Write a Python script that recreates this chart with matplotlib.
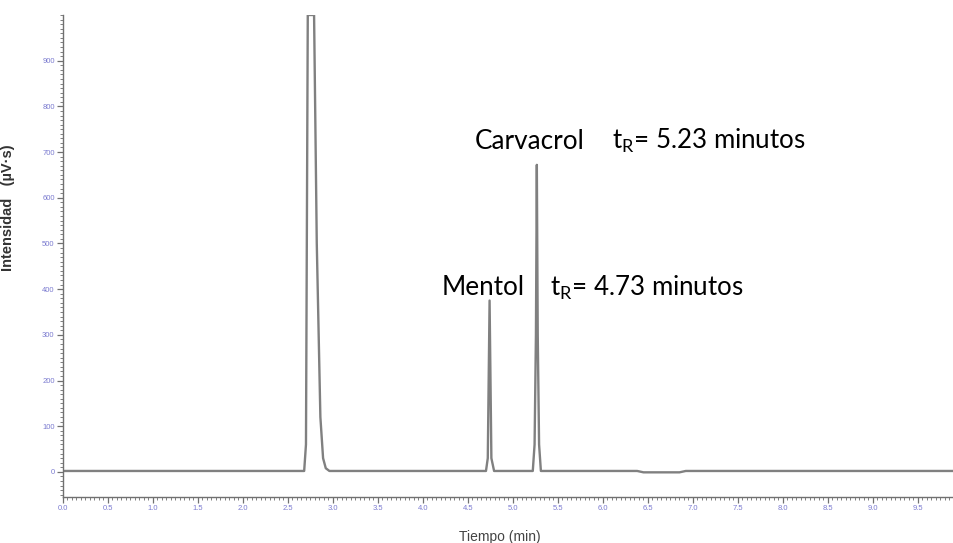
import matplotlib
matplotlib.use("Agg")
import matplotlib.pyplot as plt
from matplotlib.ticker import MultipleLocator

# traza del cromatograma (tiempo en min, intensidad en uV*s)
tiempo = [0.0, 2.68, 2.70, 2.72, 2.79, 2.82, 2.86, 2.89, 2.92, 2.96,
          4.70, 4.72, 4.74, 4.76, 4.79,
          5.22, 5.24, 5.255, 5.265, 5.275, 5.29, 5.31,
          6.38, 6.45, 6.85, 6.92, 9.9]
intensidad = [2, 2, 60, 1000, 1000, 500, 120, 30, 8, 2,
              2, 30, 375, 30, 2,
              2, 60, 300, 672, 300, 60, 2,
              2, -1, -1, 2, 2]

# anotaciones: texto, x, y (base del texto)
picos = ["Mentol", "Carvacrol"]
picos_x = [4.21, 4.57]
picos_y = [387, 707]
tr_texto = ["t$_\\mathregular{R}$= 4.73 minutos", "t$_\\mathregular{R}$= 5.23 minutos"]
tr_x = [5.41, 6.10]

x_ticks = [i * 0.5 for i in range(20)]
y_ticks = list(range(0, 1000, 100))

azul = "#7b7bd0"

fig = plt.figure(figsize=(9.54, 5.43), dpi=100)
ax = fig.add_axes([0.066, 0.0847, 0.934, 0.8877])

ax.plot(tiempo, intensidad, color="#808080", lw=1.7)

ax.set_xlim(0, 9.9)
ax.set_ylim(-55, 1000)

ax.set_xticks(x_ticks)
ax.set_xticklabels(["%.1f" % v for v in x_ticks], family="Liberation Sans")
ax.set_yticks(y_ticks)
ax.set_yticklabels([str(v) for v in y_ticks], family="Liberation Sans")
ax.xaxis.set_minor_locator(MultipleLocator(0.05))
ax.yaxis.set_minor_locator(MultipleLocator(10))

for s in ["top", "right"]:
    ax.spines[s].set_visible(False)
for s in ["left", "bottom"]:
    ax.spines[s].set_color("#707070")
    ax.spines[s].set_linewidth(1.0)

ax.tick_params(which="major", length=4, width=0.9, color="#707070",
               labelsize=5.5, labelcolor=azul, pad=2)
ax.tick_params(which="minor", length=2.5, width=0.7, color="#808080")

ax.set_ylabel("Intensidad   (µV·s)", fontsize=10.5, color="#333333",
              fontweight="bold", family="Liberation Sans")
ax.yaxis.set_label_coords(-0.054, 0.60)
ax.set_xlabel("Tiempo (min)", fontsize=10, color="#444444",
              family="Liberation Sans")
ax.xaxis.set_label_coords(0.49, -0.068)

for nombre, x, y, tr, xt in zip(picos, picos_x, picos_y, tr_texto, tr_x):
    ax.text(x, y, nombre, fontsize=18.8, family="Lato", color="black",
            va="baseline", ha="left")
    ax.text(xt, y, tr, fontsize=18.6, family="Lato", color="black",
            va="baseline", ha="left")

fig.savefig("out.png", dpi=100)
